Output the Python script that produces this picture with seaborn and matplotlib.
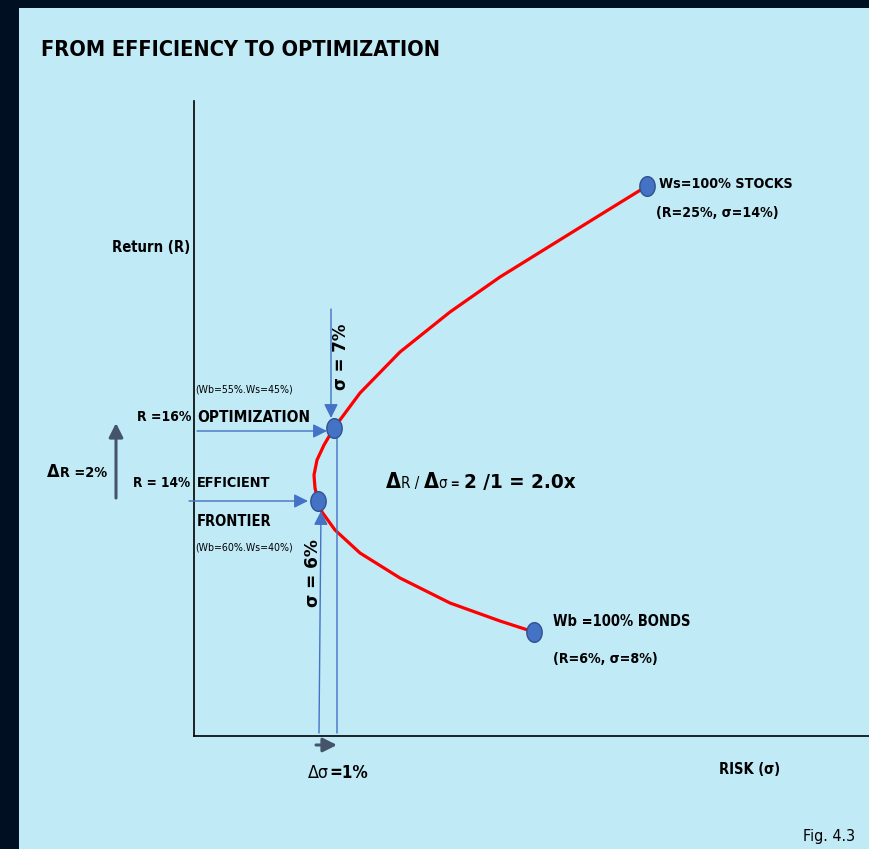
import numpy as np
import pandas as pd
import matplotlib
matplotlib.use("Agg")
import matplotlib.pyplot as plt
from matplotlib.path import Path
from matplotlib.patches import Rectangle
import seaborn as sns

# efficient frontier (chart units, origin = axes corner)
frontier_risk = [340, 306, 256, 206, 166, 141, 128, 124, 121, 120,
                 123, 130, 140, 166, 206, 256, 306, 356, 406, 453]
frontier_return = [104, 115, 133, 158, 183, 206, 224, 235, 248, 261,
                   276, 291, 308, 343, 384, 424, 459, 490, 521, 550]

# the four marked portfolios
point_names = ["BONDS", "EFFICIENT", "OPTIMIZATION", "STOCKS"]
point_risk = [340, 124, 140, 453]
point_return = [104, 235, 308, 550]

bg_dark = "#010f22"
panel = "#c1eaf7"
dot_blue = "#4472c4"
arrow_gray = "#44546a"

sns.set_theme(style="white")
plt.rcParams['font.family'] = ['DejaVu Sans']
plt.rcParams['font.stretch'] = 'condensed'

fig = plt.figure(figsize=(8.69, 8.49), dpi=100)
fig.patch.set_facecolor(bg_dark)
fig.patches.append(Rectangle((19 / 869, 0), 850 / 869, 841 / 849,
                             transform=fig.transFigure, facecolor=panel,
                             edgecolor="none", zorder=-5))
renderer = fig.canvas.get_renderer()

# 1 data unit == 1 pixel
ax = fig.add_axes([194 / 869, 113 / 849, 675 / 869, 635 / 849])
ax.set_xlim(0, 675)
ax.set_ylim(0, 635)
ax.patch.set_alpha(0)
for side in ["top", "right"]:
    ax.spines[side].set_visible(False)
for side in ["left", "bottom"]:
    ax.spines[side].set_color("black")
    ax.spines[side].set_linewidth(1.2)
ax.set_xticks([])
ax.set_yticks([])

df = pd.DataFrame({"risk": frontier_risk, "ret": frontier_return})
sns.lineplot(data=df, x="risk", y="ret", sort=False, estimator=None,
             color="#ff0000", lw=2.3, ax=ax, zorder=3)

t = np.linspace(0, 2 * np.pi, 60)
ellipse = Path(np.column_stack([0.78 * np.cos(t), np.sin(t)]))
pts = pd.DataFrame({"name": point_names, "risk": point_risk, "ret": point_return})
sns.scatterplot(data=pts, x="risk", y="ret", marker=ellipse, s=200,
                color=dot_blue, edgecolor="#2f528f", linewidth=1.0,
                ax=ax, zorder=6, clip_on=False)
ax.set_xlabel("")
ax.set_ylabel("")


def fit(texts, length):
    # scale font sizes so the run of texts spans `length` pixels
    boxes = [tx.get_window_extent(renderer) for tx in texts]
    if texts[0].get_rotation() in (90, 270):
        span = max(b.y1 for b in boxes) - min(b.y0 for b in boxes)
    else:
        span = max(b.x1 for b in boxes) - min(b.x0 for b in boxes)
    k = length / span
    for tx in texts:
        tx.set_fontsize(tx.get_fontsize() * k)


def txt(x, y, s, width, size=13, weight="bold", **kw):
    kw.setdefault("va", "center")
    kw.setdefault("ha", "left")
    tx = ax.text(x, y, s, fontsize=size, fontweight=weight, color="black",
                 clip_on=False, **kw)
    fit([tx], width)
    return tx


def chain(x, y, parts, width):
    prev = ax.text(x, y, parts[0][0], fontsize=parts[0][1], fontweight=parts[0][2],
                   va="baseline", ha="left", color="black", clip_on=False)
    items = [prev]
    for s, size, weight in parts[1:]:
        prev = ax.annotate(s, xy=(1, y), xycoords=(prev, "data"), fontsize=size,
                           fontweight=weight, va="baseline", ha="left",
                           color="black", annotation_clip=False)
        items.append(prev)
    fit(items, width)
    return items


def arrow(xy, xytext, color=dot_blue, lw=1.0, head=True, scale=12):
    style = "-|>,head_length=0.7,head_width=0.35" if head else "-"
    ax.annotate("", xy=xy, xytext=xytext, xycoords="data", textcoords="data",
                annotation_clip=False,
                arrowprops=dict(arrowstyle=style, color=color, lw=lw,
                                shrinkA=0, shrinkB=0, mutation_scale=scale))


txt(-153, 686, "FROM EFFICIENCY TO OPTIMIZATION", 402, size=19.5)
txt(-4, 489, "Return (R)", 78, ha="right")
txt(1, 347, "(Wb=55%.Ws=45%)", 98, size=9.5, weight="normal")
txt(-3, 319, "R =16%", 54, ha="right")
txt(3, 319, "OPTIMIZATION", 113)
txt(-4, 253, "R = 14%", 57, ha="right")
txt(3, 253, "EFFICIENT", 74)
txt(3, 215, "FRONTIER", 74)
txt(1, 189, "(Wb=60%.Ws=40%)", 98, size=9.5, weight="normal")

txt(147, 379, "σ = 7%", 66, rotation=90, ha="center", fontstretch="normal")
txt(119, 163, "σ = 6%", 68, rotation=90, ha="center", fontstretch="normal")

txt(465, 552, "Ws=100% STOCKS", 134)
txt(462, 523, "(R=25%, σ=14%)", 122)
txt(359, 114, "Wb =100% BONDS", 137)
txt(359, 77, "(R=6%, σ=8%)", 105)
txt(525, -34, "RISK (σ)", 61)
txt(609, -100, "Fig. 4.3", 52, weight="normal")

chain(-147, 259, [("Δ", 17, "bold"), ("R =2%", 13.5, "bold")], 60)
chain(192, 248, [("Δ", 20, "bold"), ("R / ", 14, "normal"), ("Δ", 20, "bold"),
                 ("σ", 14, "normal"), (" = ", 11, "bold"),
                 ("2 /1 = 2.0x", 19, "bold")], 189)
chain(114, -42, [("Δσ", 14, "normal"), ("=1%", 13.5, "bold")], 60)

# pointers to the two frontier portfolios
arrow((133, 305), (3, 305))
arrow((114, 235), (-5, 235))
arrow((137, 318), (137, 427))
arrow((127, 225), (125, 3))
arrow((143, 3), (143, 299), head=False)

# delta markers
arrow((-78, 313), (-78, 238), color=arrow_gray, lw=2.2, scale=12)
arrow((143, -9), (122, -9), color=arrow_gray, lw=2.2, scale=12)

fig.savefig("out.png", dpi=100, facecolor=fig.get_facecolor())
